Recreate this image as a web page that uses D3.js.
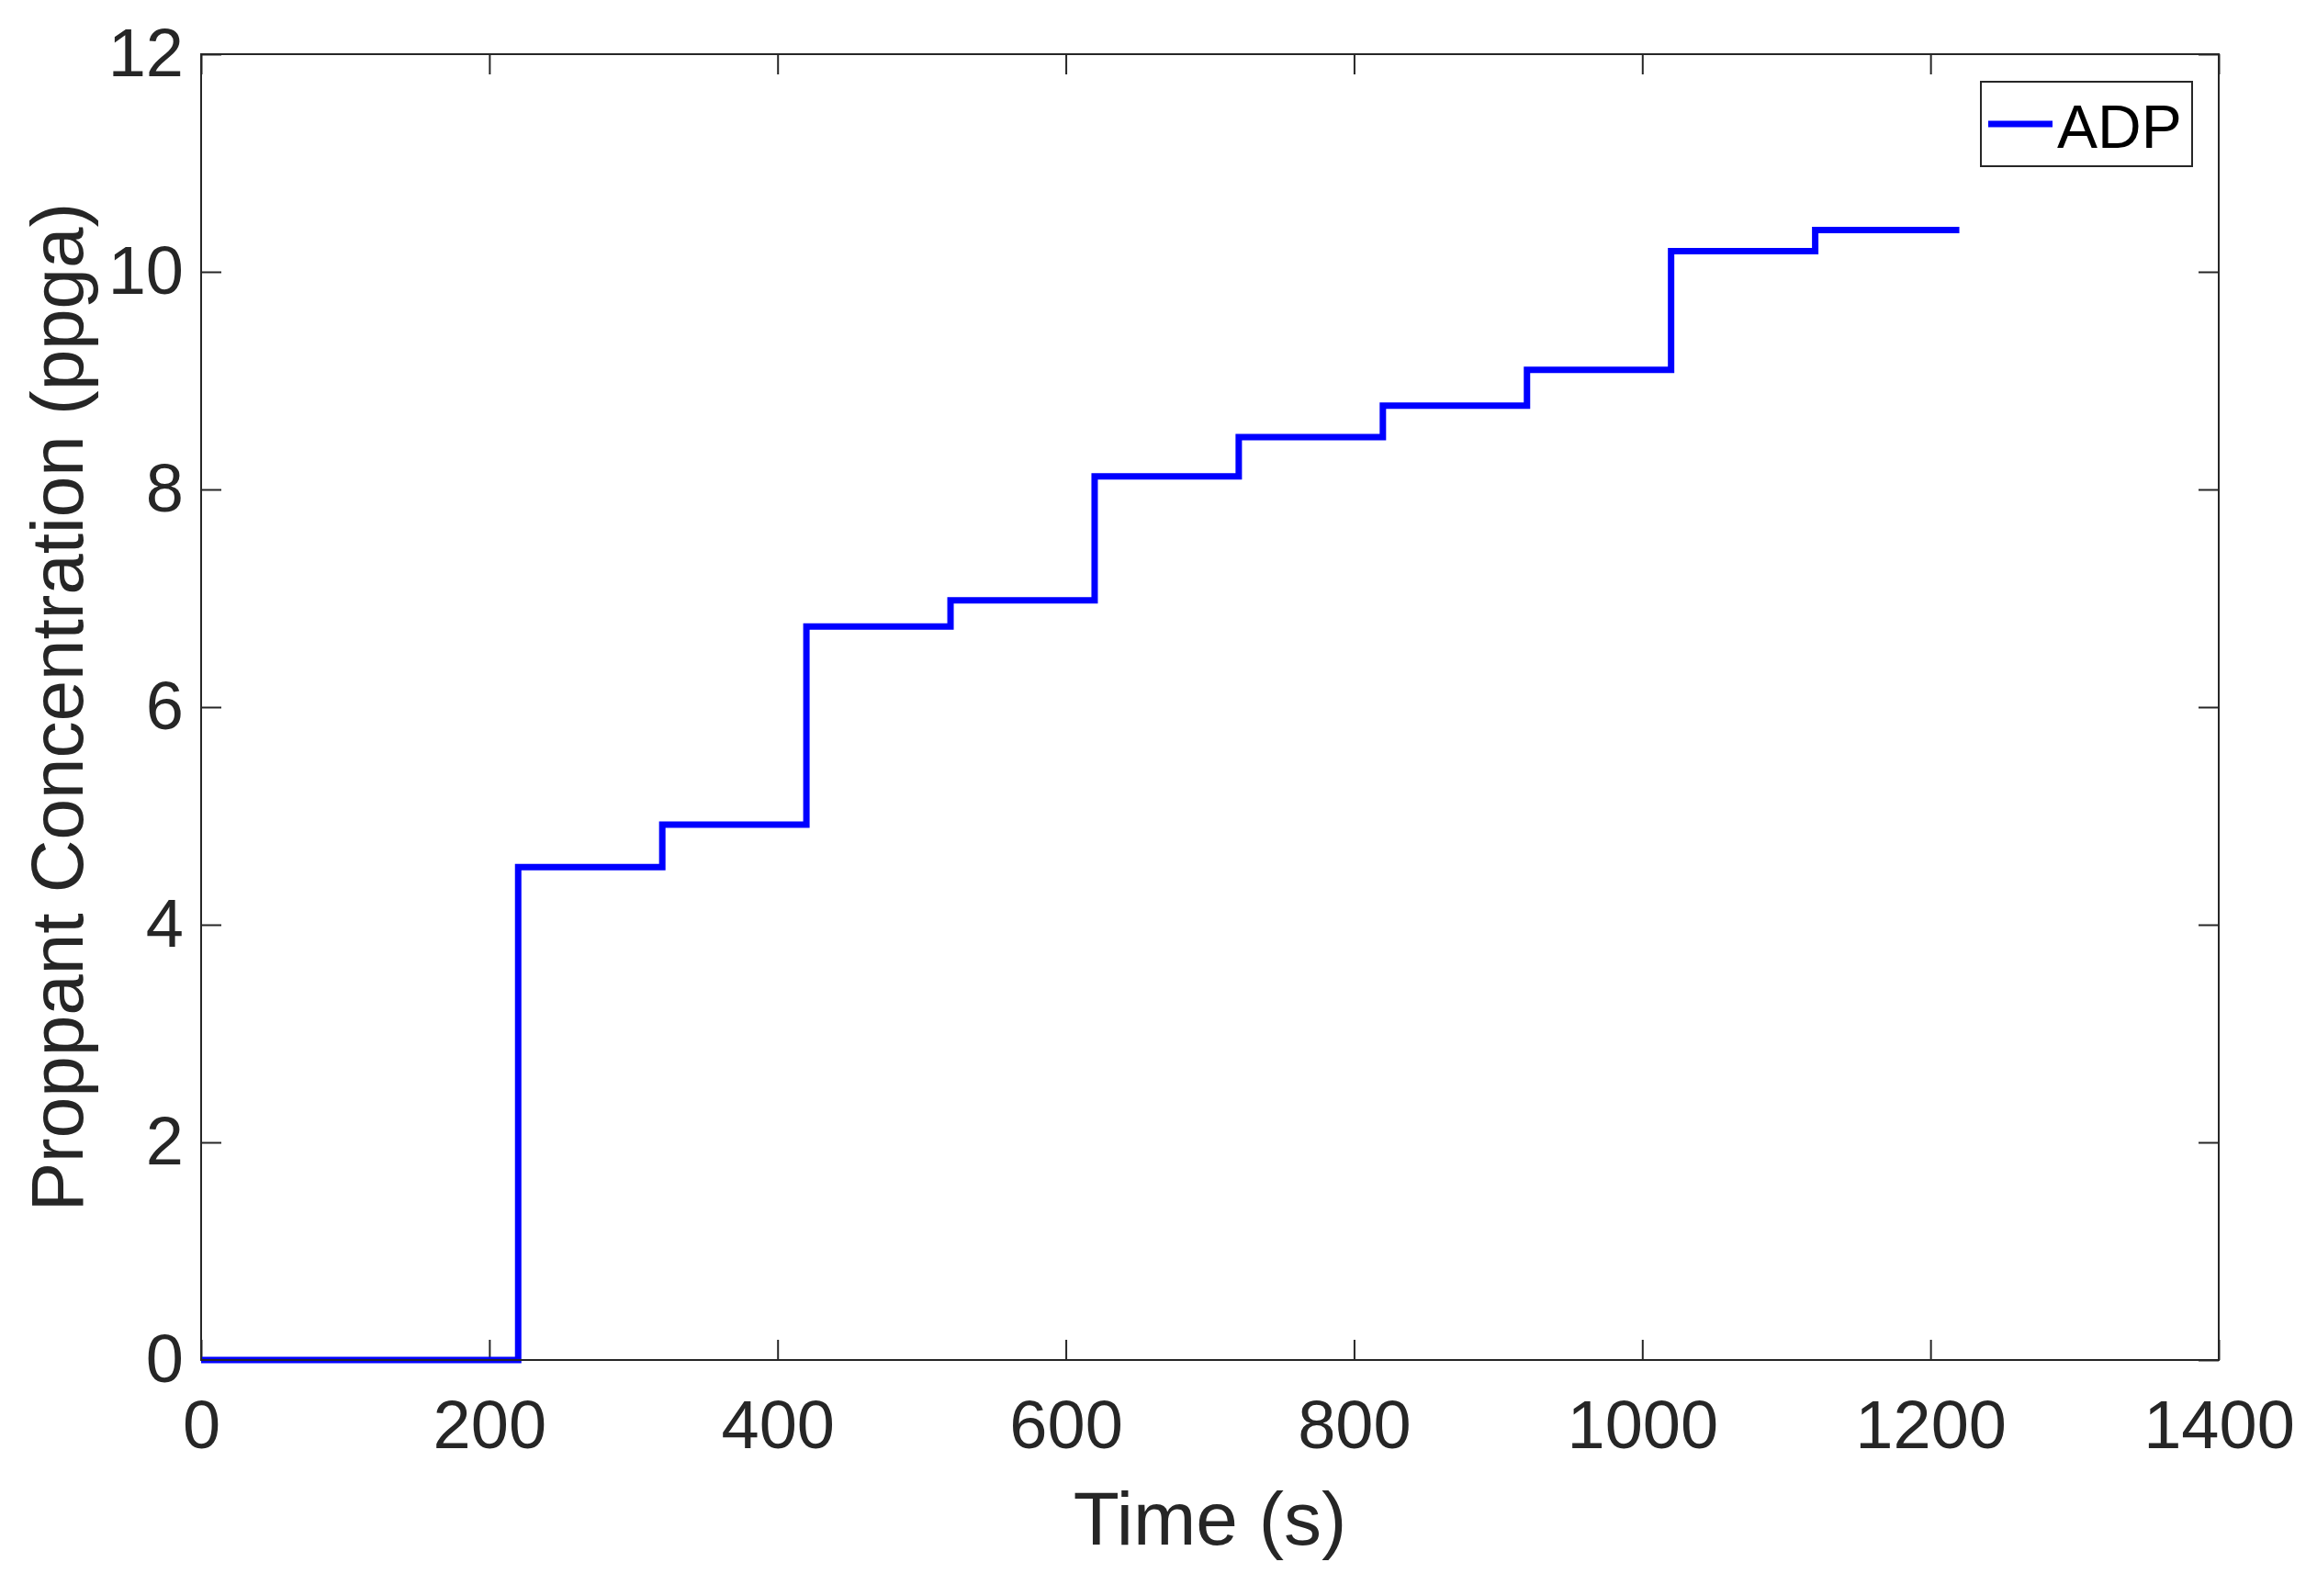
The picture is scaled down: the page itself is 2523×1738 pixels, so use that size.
<!DOCTYPE html>
<html>
<head>
<meta charset="utf-8">
<script src="https://cdn.jsdelivr.net/npm/d3@7"></script>
<style>
  body { margin: 0; background: #fff; }
  text { font-family: "Liberation Sans", Arial, sans-serif; }
</style>
</head>
<body>
<svg id="chart" width="2523" height="1738"></svg>
<script>
// stage start times (s) and proppant level held from that time on (ppga)
var stageTimes = [0, 220, 320, 420, 520, 620, 720, 820, 920, 1020, 1120];
var stageLevels = [0, 4.53, 4.92, 6.74, 6.98, 8.12, 8.48, 8.77, 9.10, 10.19, 10.385];
var endTime = 1220;

var xTicks = [0, 200, 400, 600, 800, 1000, 1200, 1400];
var yTicks = [0, 2, 4, 6, 8, 10, 12];
var seriesName = "ADP";

var svg = d3.select("#chart"),
    margin = {top: 59, right: 107, bottom: 257, left: 219},
    width = +svg.attr("width") - margin.left - margin.right,
    height = +svg.attr("height") - margin.top - margin.bottom,
    g = svg.append("g").attr("transform", "translate(" + margin.left + "," + margin.top + ")");

var x = d3.scaleLinear().domain([0, 1400]).range([0, width]);
var y = d3.scaleLinear().domain([0, 12]).range([height, 0]);

// build points: each stage, plus the end of the last one
var pts = stageTimes.map(function(t, i) { return {t: t, v: stageLevels[i]}; });
pts.push({t: endTime, v: stageLevels[stageLevels.length - 1]});

var tickLen = 22;

function styleAxis(sel) {
  sel.select(".domain").remove();
  sel.selectAll(".tick line").attr("stroke", "#262626").attr("stroke-width", 2);
  sel.selectAll(".tick text")
    .attr("fill", "#262626")
    .attr("font-size", 74);
}

// bottom axis with labels, ticks pointing in
g.append("g")
    .attr("transform", "translate(0," + height + ")")
    .call(d3.axisBottom(x).tickValues(xTicks).tickSize(-tickLen).tickPadding(43).tickFormat(d3.format("d")))
    .call(styleAxis);

// left axis
g.append("g")
    .call(d3.axisLeft(y).tickValues(yTicks).tickSize(-tickLen).tickPadding(19).tickFormat(d3.format("d")))
    .call(styleAxis);

// top and right, ticks only
g.append("g")
    .call(d3.axisTop(x).tickValues(xTicks).tickSize(-tickLen).tickFormat(""))
    .call(styleAxis);
g.append("g")
    .attr("transform", "translate(" + width + ",0)")
    .call(d3.axisRight(y).tickValues(yTicks).tickSize(-tickLen).tickFormat(""))
    .call(styleAxis);

// the line
var line = d3.line()
    .x(function(d) { return x(d.t); })
    .y(function(d) { return y(d.v); })
    .curve(d3.curveStepAfter);

g.append("path")
    .datum(pts)
    .attr("fill", "none")
    .attr("stroke", "#0000ff")
    .attr("stroke-width", 7)
    .attr("d", line);

// box around plot
g.append("rect")
    .attr("width", width)
    .attr("height", height)
    .attr("fill", "none")
    .attr("stroke", "#262626")
    .attr("stroke-width", 2);

// axis titles
g.append("text")
    .attr("x", width / 2)
    .attr("y", height + 201)
    .attr("text-anchor", "middle")
    .attr("font-size", 82)
    .attr("fill", "#262626")
    .text("Time (s)");

g.append("text")
    .attr("transform", "translate(" + (90 - margin.left) + "," + (height / 2) + ") rotate(-90)")
    .attr("text-anchor", "middle")
    .attr("font-size", 80)
    .attr("fill", "#262626")
    .text("Proppant Concentration (ppga)");

// legend
var legend = g.append("g").attr("transform", "translate(" + (width - 259) + ",30)");
legend.append("rect")
    .attr("width", 230)
    .attr("height", 92)
    .attr("fill", "#fff")
    .attr("stroke", "#262626")
    .attr("stroke-width", 2);
legend.append("line")
    .attr("x1", 8).attr("x2", 78)
    .attr("y1", 46).attr("y2", 46)
    .attr("stroke", "#0000ff")
    .attr("stroke-width", 7);
legend.append("text")
    .attr("x", 83)
    .attr("y", 72)
    .attr("font-size", 66)
    .attr("fill", "#000")
    .text(seriesName);
</script>
</body>
</html>
